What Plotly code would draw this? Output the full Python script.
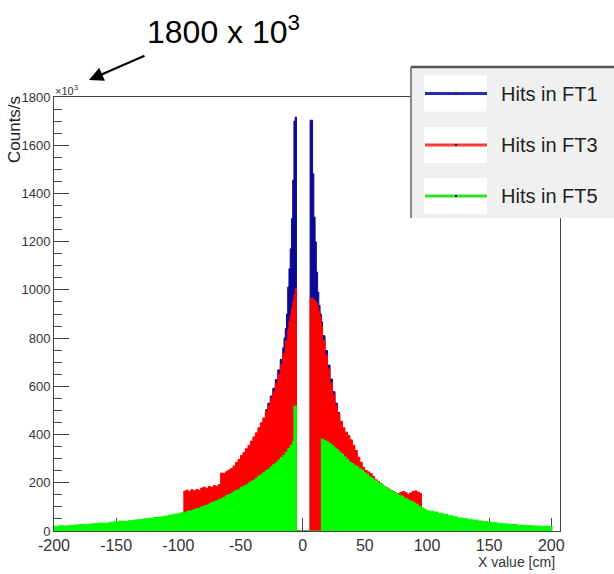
import plotly.graph_objects as go

# ---------------- data (counts/s in units of 10^3, x in cm) ----------------
def make_edges(segments):
    out = []
    for a, b, s in segments:
        v = a
        while v < b - 1e-9:
            out.append(v)
            v += s
    out.append(segments[-1][1])
    return out

# FT5 (green)
ft5_segments = [(-200, -100, 4), (-100, -8, 2), (-8, -7, 1), (-7, -5, 2), (-5, 15, 20), (15, 101, 2), (101, 201, 4)]
ft5_left_tail = [20, 22, 21, 24, 25, 27, 26, 29, 31, 33, 32, 36, 38, 41, 40, 43, 46, 48, 51, 53, 56, 58, 62, 66, 70]
ft5_left_mid = [73, 76, 75, 80, 83, 84, 89, 92, 95, 100, 104, 107, 112, 118, 121, 125, 131, 134, 140, 147,
                151, 156, 163, 168, 173, 181, 186, 191, 199, 206, 211, 219, 228, 233, 242, 251, 257, 266, 276, 283,
                294, 305, 314, 327, 341, 355]
ft5_inner = [370, 518, 0]
ft5_right_mid = [381, 375, 371, 362, 355, 345, 338, 327, 319, 307, 298, 286, 280, 272, 267, 259, 253, 242, 236, 225,
                 220, 211, 206, 197, 192, 184, 179, 170, 166, 159, 155, 148, 145, 137, 133, 126, 123, 116, 111, 102,
                 97, 91, 87]
ft5_right_tail = [82, 79, 73, 69, 63, 59, 54, 51, 47, 45, 41, 39, 36, 34, 31, 30, 28, 27, 24, 23, 22, 21, 20, 20, 19]

# FT3 (red)
ft3_segments = [(-96, -66, 2), (-66, -12, 2), (-12, -5, 1), (-5, 6, 11), (6, 16, 1), (16, 96, 2)]
ft3_left_flat = [165, 169, 163, 171, 166, 172, 168, 178, 182, 176, 185, 181, 188, 186, 192]
ft3_left_rise = [240, 238, 246, 253, 259, 270, 284, 297, 313, 326, 341, 355, 373, 390, 407, 428, 449, 469, 495, 520,
                 549, 578, 613, 648, 690, 736, 788]
ft3_left_inner = [835, 870, 900, 925, 952, 980, 1005]
ft3_gap = [0]
ft3_right_inner = [965, 968, 962, 958, 952, 945, 930, 910, 885, 850]
ft3_right_fall = [790, 730, 672, 615, 565, 522, 486, 455, 428, 410, 396, 378, 356, 334, 306, 285, 263, 251, 245, 238,
                  226, 212, 206, 196, 187, 181, 175, 169, 164, 158, 155, 159, 164, 160, 151, 158, 164, 166, 161, 156]

# FT1 (blue)
ft1_segments = [(-30, -16, 2), (-16, -5, 1), (-5, 6, 11), (6, 16, 1), (16, 30, 2)]
ft1_left_outer = [503, 530, 560, 592, 628, 668, 712]
ft1_left_inner = [760, 800, 840, 900, 1012, 1088, 1171, 1296, 1455, 1700, 1717]
ft1_gap = [0]
ft1_right_inner = [1704, 1704, 1482, 1302, 1199, 1074, 991, 935, 900, 868]
ft1_right_outer = [810, 748, 688, 630, 578, 530, 492]

x_tick_vals = [-200, -150, -100, -50, 0, 50, 100, 150, 200]
x_tick_text = ["-200", "-150", "-100", "-50", "0", "50", "100", "150", "200"]
legend_labels = ["Hits in FT1", "Hits in FT3", "Hits in FT5"]

# ---------------- build ----------------
ft5_edges = make_edges(ft5_segments)
ft5_counts = ft5_left_tail + ft5_left_mid + ft5_inner + ft5_right_mid + ft5_right_tail
ft3_edges = make_edges(ft3_segments)
ft3_counts = ft3_left_flat + ft3_left_rise + ft3_left_inner + ft3_gap + ft3_right_inner + ft3_right_fall
ft1_edges = make_edges(ft1_segments)
ft1_counts = ft1_left_outer + ft1_left_inner + ft1_gap + ft1_right_inner + ft1_right_outer

BLUE = "#0a0a96"
RED = "#ff0000"
GREEN = "#00ff00"

SANS = "Liberation Sans, Arial, Helvetica, sans-serif"

fig = go.Figure()
for edges, counts, col in [(ft1_edges, ft1_counts, BLUE), (ft3_edges, ft3_counts, RED), (ft5_edges, ft5_counts, GREEN)]:
    assert len(edges) == len(counts) + 1, (len(edges), len(counts))
    fig.add_trace(go.Scatter(
        x=edges, y=counts + [counts[-1]], mode="lines", line_shape="hv",
        line=dict(color=col, width=1), fill="tozeroy", fillcolor=col,
        hoverinfo="skip", showlegend=False))

L, R, T, B = 54, 54, 97, 43
W, H = 614, 574
PW, PH = W - L - R, H - T - B

def px2x(px):
    return (px - L) / PW

def px2y(py):
    return (H - B - py) / PH

fig.update_layout(
    width=W, height=H, margin=dict(l=L, r=R, t=T, b=B),
    paper_bgcolor="white", plot_bgcolor="white", showlegend=False,
    xaxis=dict(range=[-200, 207], tickmode="array", tickvals=x_tick_vals, ticktext=x_tick_text,
               ticks="inside", ticklen=13, tickwidth=1, tickcolor="#444",
               showline=True, linecolor="#444", linewidth=1, mirror=True,
               showgrid=False, zeroline=False, layer="below traces",
               tickfont=dict(family=SANS, size=16, color="#333")),
    yaxis=dict(range=[0, 1800], tickmode="linear", tick0=0, dtick=200,
               ticks="inside", ticklen=15, tickwidth=1, tickcolor="#444",
               minor=dict(dtick=50, ticks="inside", ticklen=8, tickcolor="#444"),
               showline=True, linecolor="#444", linewidth=1, mirror=True,
               showgrid=False, zeroline=False, layer="below traces",
               tickfont=dict(family=SANS, size=13, color="#333")),
)

shapes = []
# legend box
shapes.append(dict(type="rect", xref="paper", yref="paper", x0=px2x(411), x1=px2x(620), y0=px2y(218), y1=px2y(67),
                   fillcolor="#f0f0f0", line=dict(width=0), layer="above"))
shapes.append(dict(type="line", xref="paper", yref="paper", x0=px2x(411), x1=px2x(620), y0=px2y(67), y1=px2y(67),
                   line=dict(color="#555", width=2.5), layer="above"))
shapes.append(dict(type="line", xref="paper", yref="paper", x0=px2x(411), x1=px2x(411), y0=px2y(218), y1=px2y(67),
                   line=dict(color="#666", width=1.5), layer="above"))
legend_cols = ["#2a2ab4", "#ff3c3c", "#2ee02e"]
row_y = [93.5, 145, 196]
for yc, col in zip(row_y, legend_cols):
    shapes.append(dict(type="rect", xref="paper", yref="paper", x0=px2x(424), x1=px2x(487),
                       y0=px2y(yc + 18), y1=px2y(yc - 18), fillcolor="white", line=dict(width=0), layer="above"))
    shapes.append(dict(type="line", xref="paper", yref="paper", x0=px2x(425), x1=px2x(487),
                       y0=px2y(yc), y1=px2y(yc), line=dict(color=col, width=3), layer="above"))
    shapes.append(dict(type="rect", xref="paper", yref="paper", x0=px2x(455), x1=px2x(457),
                       y0=px2y(yc + 1), y1=px2y(yc - 1), fillcolor="#222", line=dict(width=0), layer="above"))

annotations = []
for yc, lab in zip(row_y, legend_labels):
    annotations.append(dict(xref="paper", yref="paper", x=px2x(499), y=px2y(yc), xanchor="left", yanchor="middle",
                            text=lab, showarrow=False, font=dict(family=SANS, size=20, color="#222")))

annotations += [
    dict(xref="paper", yref="paper", x=px2x(15), y=px2y(130), text="Counts/s", textangle=-90,
         showarrow=False, xanchor="center", yanchor="middle", font=dict(family=SANS, size=17, color="#222")),
    dict(xref="paper", yref="paper", x=px2x(53), y=px2y(90), text="×10<sup>3</sup>", showarrow=False,
         xanchor="left", yanchor="middle", font=dict(family=SANS, size=11, color="#333")),
    dict(xref="paper", yref="paper", x=px2x(557), y=px2y(562), text="X value [cm]", showarrow=False,
         xanchor="right", yanchor="middle", font=dict(family=SANS, size=14, color="#333")),
    dict(xref="paper", yref="paper", x=px2x(145), y=px2y(30), text="1800 x 10<sup>3</sup>", showarrow=False,
         xanchor="left", yanchor="middle", font=dict(family=SANS, size=32, color="black")),
    dict(xref="paper", yref="paper", x=px2x(89), y=px2y(80), text="", showarrow=True,
         ax=57, ay=-25, axref="pixel", ayref="pixel", arrowhead=2, arrowsize=1.3, arrowwidth=2.2,
         arrowcolor="black", standoff=0),
]

fig.update_layout(shapes=shapes, annotations=annotations)
fig.write_html("out.html")
